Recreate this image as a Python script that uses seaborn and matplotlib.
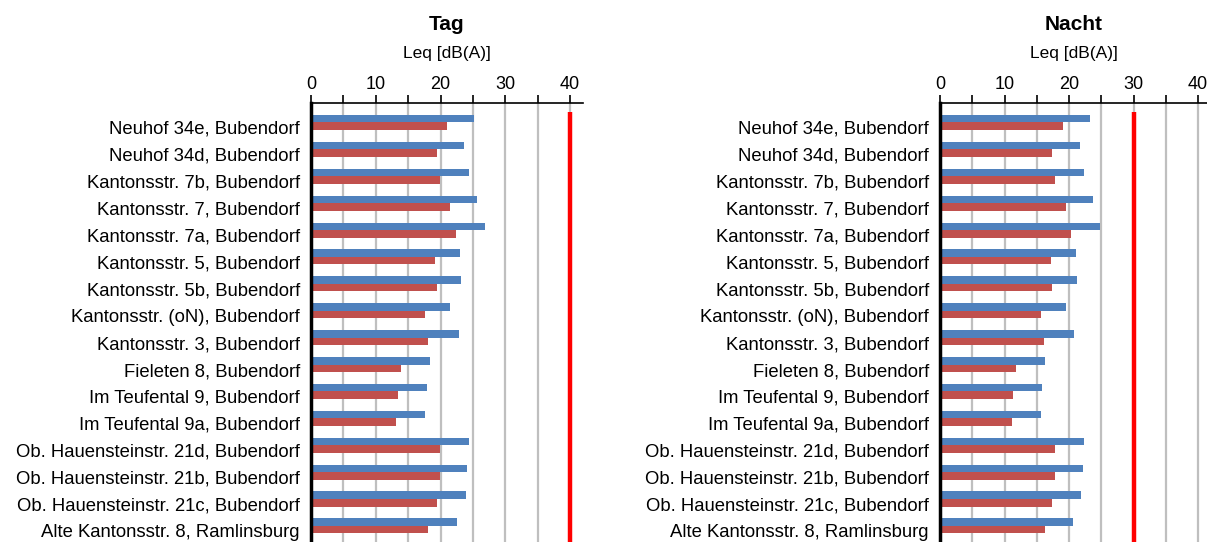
import pandas as pd
import matplotlib
matplotlib.use("Agg")
import matplotlib.pyplot as plt
import matplotlib.transforms as mtransforms
import seaborn as sns

# Receiver points
orte = [
    "Neuhof 34e, Bubendorf",
    "Neuhof 34d, Bubendorf",
    "Kantonsstr. 7b, Bubendorf",
    "Kantonsstr. 7, Bubendorf",
    "Kantonsstr. 7a, Bubendorf",
    "Kantonsstr. 5, Bubendorf",
    "Kantonsstr. 5b, Bubendorf",
    "Kantonsstr. (oN), Bubendorf",
    "Kantonsstr. 3, Bubendorf",
    "Fieleten 8, Bubendorf",
    "Im Teufental 9, Bubendorf",
    "Im Teufental 9a, Bubendorf",
    "Ob. Hauensteinstr. 21d, Bubendorf",
    "Ob. Hauensteinstr. 21b, Bubendorf",
    "Ob. Hauensteinstr. 21c, Bubendorf",
    "Alte Kantonsstr. 8, Ramlinsburg",
]

# Leq values
tag_blau = [25.2, 23.6, 24.4, 25.6, 26.9, 23.0, 23.2, 21.5, 22.9, 18.4, 17.9, 17.6, 24.4, 24.1, 23.9, 22.5]
tag_rot = [21.0, 19.5, 19.9, 21.5, 22.4, 19.2, 19.5, 17.6, 18.1, 13.9, 13.4, 13.1, 19.9, 19.9, 19.5, 18.1]
nacht_blau = [23.3, 21.7, 22.3, 23.7, 24.8, 21.1, 21.2, 19.5, 20.8, 16.3, 15.8, 15.7, 22.3, 22.2, 21.9, 20.6]
nacht_rot = [19.1, 17.4, 17.8, 19.5, 20.3, 17.2, 17.4, 15.7, 16.1, 11.8, 11.3, 11.2, 17.8, 17.8, 17.4, 16.3]

# Planning values (red limit lines)
grenze_tag = 40
grenze_nacht = 30

serien = ["Serie 1", "Serie 2"]
farben = ["#4F81BD", "#C0504D"]

sns.set_style("white")
plt.rcParams["font.family"] = ["Liberation Sans", "DejaVu Sans"]
plt.rcParams["text.color"] = "black"
plt.rcParams["xtick.color"] = "black"
plt.rcParams["ytick.color"] = "black"
plt.rcParams["axes.labelcolor"] = "black"

fig = plt.figure(figsize=(12.07, 5.42), dpi=100)
ax_tag = fig.add_axes([311 / 1207, 0.0, 272 / 1207, 439 / 542])
ax_nacht = fig.add_axes([940 / 1207, 0.0, 267 / 1207, 439 / 542])


def zeichne(ax, blau, rot, grenze, titel, xmax):
    df = pd.DataFrame({
        "Ort": orte * 2,
        "Leq": blau + rot,
        "Serie": [serien[0]] * len(orte) + [serien[1]] * len(orte),
    })
    sns.barplot(data=df, y="Ort", x="Leq", hue="Serie", hue_order=serien,
                palette=farben, orient="h", width=0.56, gap=0,
                legend=False, ax=ax, saturation=1, linewidth=0, zorder=3)
    ax.set_xlim(0, xmax)
    ax.set_ylim(15.6, -0.725)
    ax.vlines(grenze, -0.39, 15.6, color="#FF0000", lw=3.2, zorder=4)

    ax.xaxis.tick_top()
    ax.xaxis.set_label_position("top")
    ax.set_xticks(range(0, 45, 5))
    ax.set_xticklabels([str(v) if v % 10 == 0 else "" for v in range(0, 45, 5)])
    ax.tick_params(axis="x", direction="out", length=6, width=1.2, color="black",
                   labelsize=13, pad=1, top=True, bottom=False)
    ax.tick_params(axis="y", length=0, labelsize=13.3, pad=8)
    # labels sit a little below the bar groups
    versatz = mtransforms.ScaledTranslation(0, -5 / 100, fig.dpi_scale_trans)
    for lab in ax.get_yticklabels():
        lab.set_transform(lab.get_transform() + versatz)
    ax.grid(axis="x", color="#BFBFBF", lw=1.6, zorder=0)
    ax.grid(axis="y", visible=False)

    ax.set_xlabel("Leq [dB(A)]", fontsize=12.5, labelpad=13)
    ax.set_ylabel("")
    ax.set_title(titel, fontsize=15, fontweight="bold", pad=12)

    for s in ["right", "bottom"]:
        ax.spines[s].set_visible(False)
    ax.spines["top"].set_color("black")
    ax.spines["top"].set_linewidth(1.2)
    ax.spines["left"].set_color("black")
    ax.spines["left"].set_linewidth(2.5)
    ax.spines["left"].set_zorder(5)


zeichne(ax_tag, tag_blau, tag_rot, grenze_tag, "Tag", 42)
zeichne(ax_nacht, nacht_blau, nacht_rot, grenze_nacht, "Nacht", 267 / 6.45)

fig.savefig("out.png", dpi=100)
